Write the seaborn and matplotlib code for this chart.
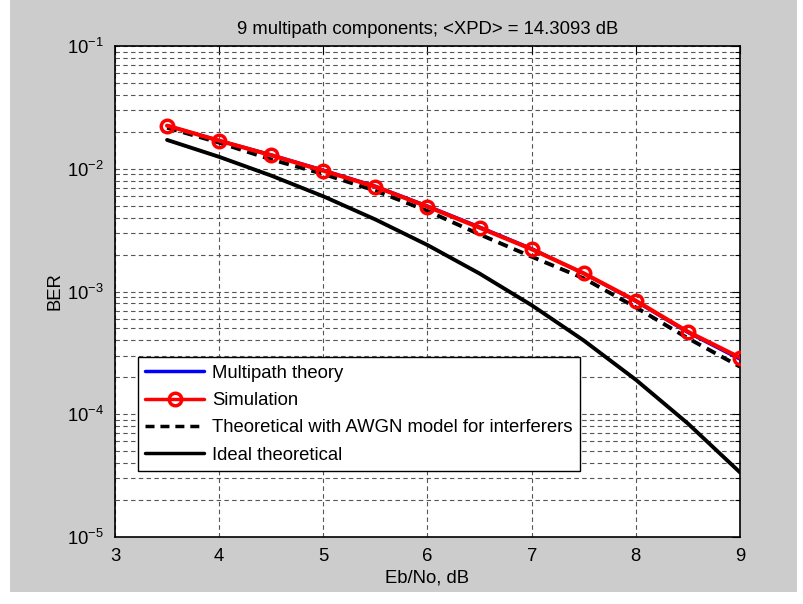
import numpy as np
import pandas as pd
import matplotlib
matplotlib.use("Agg")
import matplotlib.pyplot as plt
import seaborn as sns
from matplotlib.patches import Rectangle
from matplotlib.ticker import LogLocator, FixedLocator

# ---- data ----
ebno = [3.5, 4.0, 4.5, 5.0, 5.5, 6.0, 6.5, 7.0, 7.5, 8.0, 8.5, 9.0]
multipath_theory = [0.02250, 0.01700, 0.01300, 0.00975, 0.00722, 0.00498,
                    0.00336, 0.00224, 0.00140, 0.000830, 0.000462, 0.000280]
simulation = [0.02244, 0.01693, 0.01288, 0.00964, 0.00714, 0.00491,
              0.00331, 0.00221, 0.001406, 0.000841, 0.000470, 0.000289]
awgn_model = [0.0216, 0.0163, 0.0119, 0.00906, 0.00662, 0.00453,
              0.00292, 0.00192, 0.00128, 0.000743, 0.000416, 0.000244]
ideal = [0.01717, 0.0125, 0.00879, 0.00596, 0.00386, 0.00239,
         0.00140, 0.000773, 0.000399, 0.000191, 0.0000840, 0.0000336]
labels = ["Multipath theory", "Simulation",
          "Theoretical with AWGN model for interferers", "Ideal theoretical"]
title = "9 multipath components; <XPD> = 14.3093 dB"
xlabel = "Eb/No, dB"
ylabel = "BER"
xticks = [3, 4, 5, 6, 7, 8, 9]

sns.set_style("white")
plt.rcParams['font.family'] = ['Liberation Sans', 'DejaVu Sans']
plt.rcParams['mathtext.fontset'] = 'custom'
plt.rcParams['mathtext.rm'] = 'Liberation Sans'
plt.rcParams['mathtext.it'] = 'Liberation Sans'
plt.rcParams['mathtext.default'] = 'regular'
plt.rcParams['text.color'] = 'black'
plt.rcParams['axes.labelcolor'] = 'black'
plt.rcParams['xtick.color'] = 'black'
plt.rcParams['ytick.color'] = 'black'

FS = 13.3

fig = plt.figure(figsize=(8.04, 6.04), dpi=100)
fig.patch.set_facecolor("white")
W, H = 804, 604
fig.patches.append(Rectangle((10 / W, (H - 592) / H), 787 / W, 592 / H,
                             transform=fig.transFigure, facecolor="#cccccc",
                             edgecolor="none", zorder=-10))
ax = fig.add_axes([115 / W, (H - 537) / H, 625 / W, 491 / H])
ax.set_facecolor("white")

df = pd.DataFrame({"x": ebno, "mp": multipath_theory, "sim": simulation,
                   "awgn": awgn_model, "ideal": ideal})

sns.lineplot(data=df, x="x", y="mp", ax=ax, color="#0000ff", lw=2.2,
             label=labels[0], zorder=3)
sns.lineplot(data=df, x="x", y="sim", ax=ax, color="#ff0000", lw=3.0,
             marker="o", markersize=9, markerfacecolor="none",
             markeredgecolor="#ff0000", markeredgewidth=2.5,
             label=labels[1], zorder=4)
sns.lineplot(data=df, x="x", y="awgn", ax=ax, color="black", lw=2.8,
             label=labels[2], zorder=2)
ax.lines[-1].set_dashes((2.6, 1.7))
sns.lineplot(data=df, x="x", y="ideal", ax=ax, color="black", lw=2.8,
             label=labels[3], zorder=2)

ax.set_yscale("log")
ax.set_xlim(3, 9)
ax.set_ylim(1e-5, 1e-1)
ax.xaxis.set_major_locator(FixedLocator(xticks))
ax.yaxis.set_major_locator(LogLocator(base=10, numticks=10))
ax.yaxis.set_minor_locator(LogLocator(base=10, subs=np.arange(2, 10), numticks=20))

grid_kw = dict(color="#555555", lw=0.8, linestyle=(0, (4, 3)))
ax.grid(True, which="major", axis="both", **grid_kw)
ax.grid(True, which="minor", axis="y", **grid_kw)
ax.set_axisbelow(True)

for s in ax.spines.values():
    s.set_visible(True)
    s.set_color("black")
    s.set_linewidth(1.2)

ax.tick_params(which="both", direction="in", top=True, right=True,
               colors="black", labelsize=FS)
ax.tick_params(which="major", length=6, width=0.8, pad=8)
ax.tick_params(which="minor", length=3.5, width=0.8)

ax.set_title(title, fontsize=FS, pad=9)
ax.set_xlabel(xlabel, fontsize=FS, labelpad=3)
ax.set_ylabel(ylabel, fontsize=FS, labelpad=2)

leg = ax.legend(loc="lower left", bbox_to_anchor=(0.0368, 0.134),
                borderaxespad=0, fontsize=FS, frameon=True, fancybox=False,
                framealpha=1, edgecolor="black", handlelength=3.2,
                handletextpad=0.4, labelspacing=0.56, borderpad=0.4)
leg.get_frame().set_linewidth(1.0)
for h in leg.get_lines():
    h.set_linewidth(2.5)

fig.savefig("out.png", dpi=100, facecolor=fig.get_facecolor())
